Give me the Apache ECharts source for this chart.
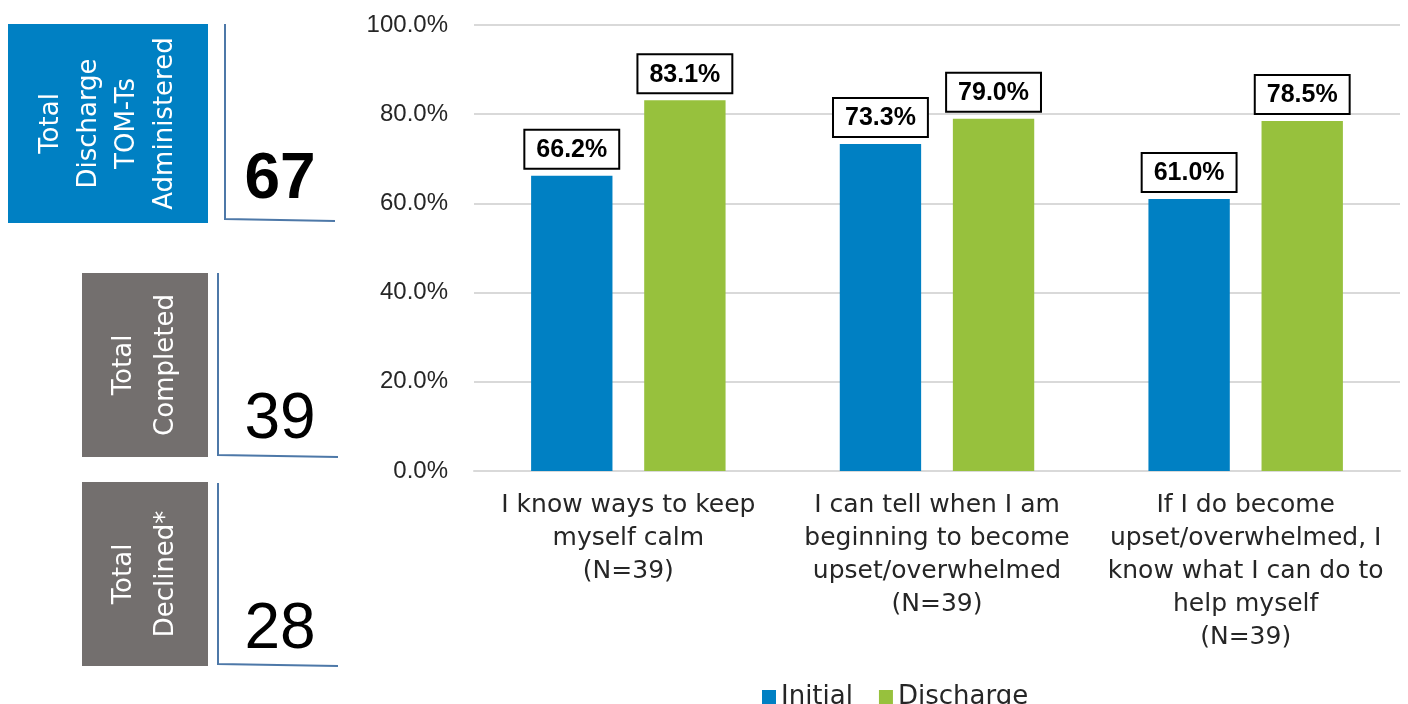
<!DOCTYPE html>
<html>
<head>
<meta charset="utf-8">
<script src="https://cdn.jsdelivr.net/npm/echarts@6/dist/echarts.min.js"></script>
<style>
  html, body { margin: 0; padding: 0; background: #fff; }
  #chart { width: 1408px; height: 704px; }
</style>
</head>
<body>
<div id="chart"></div>
<script>
// chart data
const categories = [
  "I know ways to keep\nmyself calm\n(N=39)",
  "I can tell when I am\nbeginning to become\nupset/overwhelmed\n(N=39)",
  "If I do become\nupset/overwhelmed, I\nknow what I can do to\nhelp myself\n(N=39)"
];
const seriesNames = ["Initial", "Discharge"];
const initialValues = [66.2, 73.3, 61.0];
const dischargeValues = [83.1, 79.0, 78.5];
const yTicks = [0, 20, 40, 60, 80, 100];

// side panel totals
const panelLabels = ["Total\nDischarge\nTOM-Ts\nAdministered", "Total\nCompleted", "Total\nDeclined*"];
const panelValues = [67, 39, 28];

const blue = "#0080C3";
const green = "#97C13D";
const grey = "#736F6E";
const lineBlue = "#4D78A8";

const chart = echarts.init(document.getElementById("chart"));

// side panel boxes: [x, y, w, h, fill, lineX, lineTop, lineBottom, lineEnd, numY, bold, lineGap]
const boxes = [
  [8, 24, 200, 199, blue, 225, 24, 219, 335, 212, true, 38],
  [82, 273, 126, 184, grey, 218, 273, 455, 338, 452, false, 42],
  [82, 482, 126, 184, grey, 218, 483, 664, 338, 662, false, 42]
];

const graphic = [];
boxes.forEach((b, i) => {
  graphic.push({
    type: "rect",
    shape: { x: b[0], y: b[1], width: b[2], height: b[3] },
    style: { fill: b[4] }
  });
  graphic.push({
    type: "text",
    x: b[0] + b[2] / 2,
    y: b[1] + b[3] / 2,
    rotation: Math.PI / 2,
    style: {
      text: panelLabels[i],
      fill: "#fff",
      font: "26px 'DejaVu Sans'",
      lineHeight: b[11],
      align: "center",
      verticalAlign: "middle"
    }
  });
  graphic.push({
    type: "polyline",
    shape: { points: [[b[5], b[6]], [b[5], b[7]], [b[8], b[7] + 2]] },
    style: { stroke: lineBlue, lineWidth: 2, fill: null }
  });
  graphic.push({
    type: "text",
    x: 280,
    y: b[9],
    style: {
      text: String(panelValues[i]),
      fill: "#000",
      font: (b[10] ? "bold " : "") + "64px 'Liberation Sans'",
      align: "center",
      verticalAlign: "bottom"
    }
  });
});

const barLabel = {
  show: true,
  position: "top",
  distance: 8,
  formatter: (p) => p.value.toFixed(1) + "%",
  fontFamily: "Liberation Sans",
  fontWeight: "bold",
  fontSize: 25,
  color: "#000",
  backgroundColor: "#fff",
  borderColor: "#000",
  borderWidth: 2,
  padding: [7, 11, 5, 11]
};

chart.setOption({
  animation: false,
  graphic: graphic,
  grid: { left: 474, right: 8, top: 25, bottom: 233 },
  legend: {
    data: seriesNames,
    left: 757,
    top: 679,
    icon: "rect",
    itemWidth: 14,
    itemHeight: 14,
    itemGap: 26,
    textStyle: { fontFamily: "DejaVu Sans", fontSize: 26, color: "#262626" }
  },
  xAxis: {
    type: "category",
    data: categories,
    axisLine: { lineStyle: { color: "#d9d9d9", width: 2 } },
    axisTick: { show: false },
    axisLabel: {
      interval: 0,
      margin: 18,
      fontFamily: "DejaVu Sans",
      fontSize: 25,
      lineHeight: 33,
      color: "#262626"
    }
  },
  yAxis: {
    type: "value",
    min: yTicks[0],
    max: yTicks[yTicks.length - 1],
    interval: 20,
    axisLine: { show: false },
    axisTick: { show: false },
    splitLine: { lineStyle: { color: "#d9d9d9", width: 2 } },
    axisLabel: {
      margin: 26,
      fontFamily: "Liberation Sans",
      fontSize: 24,
      color: "#262626",
      formatter: (v) => v.toFixed(1) + "%"
    }
  },
  series: [
    {
      name: seriesNames[0],
      type: "bar",
      data: initialValues,
      itemStyle: { color: blue },
      barGap: "39%",
      barCategoryGap: "37%",
      label: barLabel
    },
    {
      name: seriesNames[1],
      type: "bar",
      data: dischargeValues,
      itemStyle: { color: green },
      label: barLabel
    }
  ]
});
</script>
</body>
</html>
